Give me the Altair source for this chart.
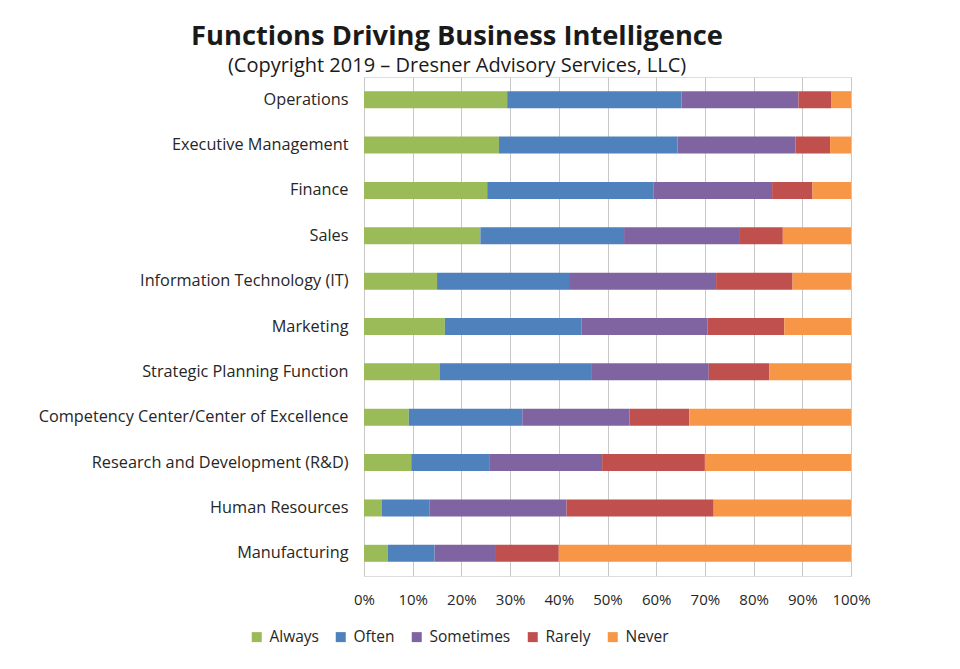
import altair as alt
import pandas as pd

functions = [
    "Operations",
    "Executive Management",
    "Finance",
    "Sales",
    "Information Technology (IT)",
    "Marketing",
    "Strategic Planning Function",
    "Competency Center/Center of Excellence",
    "Research and Development (R&D)",
    "Human Resources",
    "Manufacturing",
]
responses = ["Always", "Often", "Sometimes", "Rarely", "Never"]

always    = [29.4, 27.7, 25.3, 23.9, 15.0, 16.6, 15.5,  9.2,  9.7,  3.7,  4.9]
often     = [35.8, 36.7, 34.2, 29.5, 27.1, 28.1, 31.3, 23.3, 16.0,  9.8,  9.6]
sometimes = [24.0, 24.2, 24.3, 23.8, 30.2, 25.8, 24.0, 22.0, 23.2, 28.1, 12.6]
rarely    = [ 6.7,  7.1,  8.3,  8.8, 15.7, 15.8, 12.4, 12.3, 21.1, 30.2, 12.9]
never     = [ 4.1,  4.3,  7.9, 14.0, 12.0, 13.7, 16.8, 33.2, 30.0, 28.2, 60.0]

colors = ["#9BBB59", "#4F81BD", "#8064A2", "#C0504D", "#F79646"]

series = [always, often, sometimes, rarely, never]
rows = []
for ri, (resp, vals) in enumerate(zip(responses, series)):
    for f, v in zip(functions, vals):
        rows.append({"Function": f, "Response": resp, "Share": v, "order": ri})
df = pd.DataFrame(rows)

FONT = "Open Sans"
TXT = "#262626"

chart = (
    alt.Chart(df)
    .mark_bar(size=17)
    .encode(
        y=alt.Y(
            "Function:N",
            sort=functions,
            title=None,
            axis=alt.Axis(
                labelFont=FONT,
                labelFontSize=16.3,
                labelColor=TXT,
                ticks=False,
                domain=False,
                labelPadding=16,
                labelLimit=400,
                minExtent=340,
                maxExtent=340,
            ),
        ),
        x=alt.X(
            "Share:Q",
            stack="normalize",
            title=None,
            scale=alt.Scale(domain=[0, 1], nice=False),
            axis=alt.Axis(
                format="%",
                values=[i / 10 for i in range(11)],
                labelFont=FONT,
                labelFontSize=15,
                labelColor=TXT,
                ticks=False,
                domain=False,
                labelPadding=16,
                grid=True,
                gridColor="#C8C8C8",
                gridWidth=1,
                labelFlush=False,
            ),
        ),
        color=alt.Color(
            "Response:N",
            sort=responses,
            scale=alt.Scale(domain=responses, range=colors),
            legend=alt.Legend(
                title=None,
                orient="none",
                direction="horizontal",
                legendX=-115,
                legendY=552,
                symbolType="square",
                symbolSize=100,
                symbolStrokeWidth=0,
                labelFont=FONT,
                labelFontSize=15.5,
                labelColor=TXT,
                labelOffset=5,
                columnPadding=14,
            ),
        ),
        order=alt.Order("order:Q", sort="ascending"),
    )
    .properties(
        width=487,
        height=499,
        title=alt.TitleParams(
            text="Functions Driving Business Intelligence",
            subtitle="(Copyright 2019 – Dresner Advisory Services, LLC)",
            anchor="middle",
            frame="bounds",
            font=FONT,
            fontSize=27.3,
            fontWeight="bold",
            color="#1a1a1a",
            subtitleFont=FONT,
            subtitleFontSize=20,
            subtitleColor="#1a1a1a",
            subtitlePadding=6,
            offset=1,
            dx=10,
        ),
        padding={"left": 24, "top": 22, "right": 20, "bottom": 10},
    )
    .configure_view(stroke=None)
    .configure(background="white")
)

chart.save("out.html", embed_options={"renderer": "svg", "actions": False})
